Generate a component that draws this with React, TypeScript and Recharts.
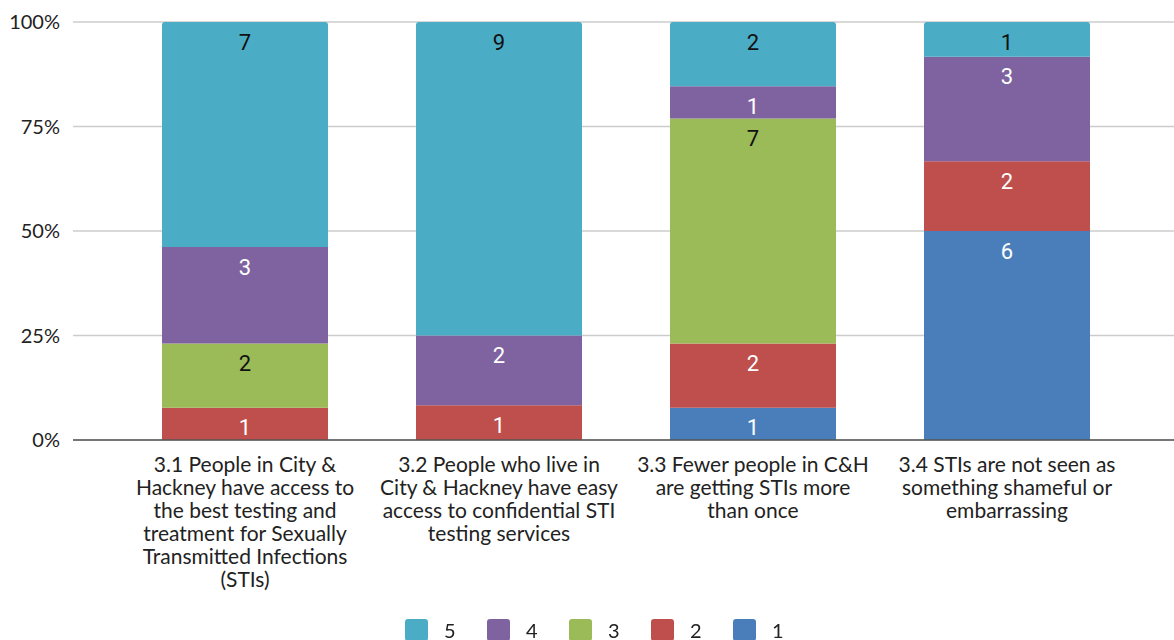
import React from "react";
import {
  Bar,
  BarChart,
  CartesianGrid,
  LabelList,
  Legend,
  XAxis,
  YAxis,
} from "recharts";

const categories = [
  "3.1 People in City &\nHackney have access to\nthe best testing and\ntreatment for Sexually\nTransmitted Infections\n(STIs)",
  "3.2 People who live in\nCity & Hackney have easy\naccess to confidential STI\ntesting services",
  "3.3 Fewer people in C&H\nare getting STIs more\nthan once",
  "3.4 STIs are not seen as\nsomething shameful or\nembarrassing",
];

// answer counts per rating, one array per rating
const rating1 = [0, 0, 1, 6];
const rating2 = [1, 1, 2, 2];
const rating3 = [2, 0, 7, 0];
const rating4 = [3, 2, 1, 3];
const rating5 = [7, 9, 2, 1];

const yTicks = [0, 0.25, 0.5, 0.75, 1];

const series = [
  { key: "r1", name: "1", values: rating1, color: "#4a7ebb", text: "#ffffff" },
  { key: "r2", name: "2", values: rating2, color: "#be4f4c", text: "#ffffff" },
  { key: "r3", name: "3", values: rating3, color: "#9bbb59", text: "#111111" },
  { key: "r4", name: "4", values: rating4, color: "#7f63a0", text: "#ffffff" },
  { key: "r5", name: "5", values: rating5, color: "#4bacc6", text: "#111111" },
];

const data = categories.map((name, i) => {
  const row: any = { name };
  series.forEach((s) => {
    row[s.key] = s.values[i];
  });
  return row;
});

const FONT = "Lato, 'Open Sans', sans-serif";

const CategoryTick = (props: any) => {
  const { x, y, payload } = props;
  const lines = String(payload.value).split("\n");
  return (
    <g transform={`translate(${x},${y})`}>
      <text
        textAnchor="middle"
        fill="#222"
        fontSize={21}
        fontFamily={FONT}
      >
        {lines.map((line, i) => (
          <tspan key={i} x={0} y={24 + i * 23}>
            {line}
          </tspan>
        ))}
      </text>
    </g>
  );
};

const LegendContent = () => {
  const items = [...series].reverse();
  return (
    <div
      style={{
        display: "flex",
        justifyContent: "center",
        alignItems: "center",
        paddingTop: 18,
        paddingLeft: 46,
      }}
    >
      {items.map((s) => (
        <div
          key={s.key}
          style={{ display: "flex", alignItems: "center", marginRight: 29 }}
        >
          <span
            style={{
              display: "inline-block",
              width: 23,
              height: 22,
              borderRadius: 3,
              background: s.color,
              marginRight: 16,
            }}
          />
          <span
            style={{
              fontFamily: FONT,
              fontSize: 20,
              color: "#222",
              width: 14,
            }}
          >
            {s.name}
          </span>
        </div>
      ))}
    </div>
  );
};

const valueLabel = (color: string) => (props: any) => {
  const { x, y, width, value } = props;
  if (!value) return null;
  return (
    <text
      x={x + width / 2}
      y={y + 12}
      dy="0.71em"
      textAnchor="middle"
      fill={color}
      fontSize={22}
      fontFamily="Roboto, sans-serif"
    >
      {value}
    </text>
  );
};

export default function App() {
  return (
    <div style={{ position: "fixed", left: 0, top: 0, background: "#fff" }}>
      <BarChart
        width={1174}
        height={640}
        data={data}
        stackOffset="expand"
        barSize={166}
        margin={{ top: 22, right: 0, bottom: 0, left: 0 }}
      >
        <CartesianGrid vertical={false} stroke="#cccccc" strokeWidth={1.5} />
        <XAxis
          dataKey="name"
          interval={0}
          height={160}
          padding={{ left: 45, right: 40 }}
          tickLine={false}
          axisLine={{ stroke: "#555", strokeWidth: 1.5 }}
          tick={<CategoryTick />}
        />
        <YAxis
          width={73}
          ticks={yTicks}
          domain={[0, 1]}
          tickFormatter={(v: number) => `${Math.round(v * 100)}%`}
          axisLine={false}
          tickLine={false}
          tickSize={0}
          tickMargin={13}
          tick={{ fill: "#222", fontSize: 20, fontFamily: FONT }}
        />
        <Legend
          verticalAlign="bottom"
          height={40}
          content={<LegendContent />}
        />
        {series.map((s) => (
          <Bar
            key={s.key}
            dataKey={s.key}
            name={s.name}
            stackId="a"
            fill={s.color}
            radius={s.key === "r5" ? [3, 3, 0, 0] : 0}
            isAnimationActive={false}
          >
            <LabelList dataKey={s.key} content={valueLabel(s.text)} />
          </Bar>
        ))}
      </BarChart>
    </div>
  );
}
